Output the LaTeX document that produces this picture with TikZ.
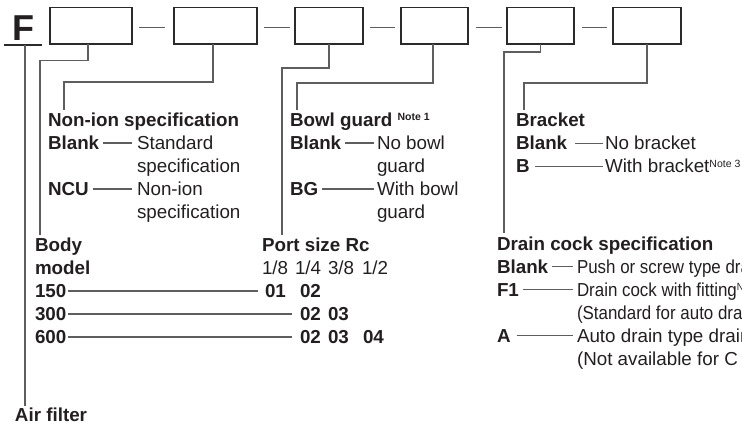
\documentclass[tikz,border=0pt]{standalone}
\usepackage{fontspec}
\setmainfont{Liberation Sans}
\newfontfamily\condfont[FakeStretch=0.9]{Liberation Sans}
\usetikzlibrary{calc}
\definecolor{ink}{HTML}{231F20}
\definecolor{wire}{HTML}{5E5E5E}
\definecolor{boxc}{HTML}{2A2A2A}
\newcommand\notemark[1]{\raisebox{5.5pt}{\fontsize{10.5}{10.5}\selectfont #1}}
\begin{document}
\fontsize{18.8}{22.6}\selectfont
\begin{tikzpicture}[x=1pt,y=-1pt,
  every node/.style={inner sep=0pt,outer sep=0pt,text=ink},
  box/.style={draw=boxc,line width=1.3pt,minimum height=36.5pt},
  conn/.style={draw=wire,line width=1.1pt},
  lbl/.style={anchor=base west,font=\bfseries},
  txt/.style={anchor=base west},
  ctxt/.style={anchor=base west,font=\condfont}]
\useasboundingbox (0,0) rectangle (742,425);
\clip (0,0) rectangle (742,425);

% header
\node[anchor=base west,font=\bfseries\fontsize{36}{36}\selectfont] (F) at (12.5,40.5) {F};
\coordinate (ul1) at (3.5,45);
\coordinate (ul2) at (42,45);
\coordinate (af) at (25,45);
\draw[draw=boxc,line width=1.3pt] (ul1) -- (ul2);

\node[box,minimum width=82pt] (b1) at (91,25.75) {};
\node[box,minimum width=83pt] (b2) at (215.5,25.75) {};
\node[box,minimum width=68pt] (b3) at (329,25.75) {};
\node[box,minimum width=67pt] (b4) at (434.5,25.75) {};
\node[box,minimum width=67pt] (b5) at (540.5,25.75) {};
\node[box,minimum width=68pt] (b6) at (647,25.75) {};

\draw[conn] ([shift={(7pt,-2pt)}]b1.east) -- ([shift={(-9pt,-2pt)}]b2.west);
\draw[conn] ([shift={(7pt,-2pt)}]b2.east) -- ([shift={(-5pt,-2pt)}]b3.west);
\draw[conn] ([shift={(7pt,-2pt)}]b3.east) -- ([shift={(-6pt,-2pt)}]b4.west);
\draw[conn] ([shift={(8pt,-2pt)}]b4.east) -- ([shift={(-5pt,-2pt)}]b5.west);
\draw[conn] ([shift={(8pt,-2pt)}]b5.east) -- ([shift={(-6pt,-2pt)}]b6.west);

% Air filter
\node[lbl] (air) at (15,421) {Air filter};
\draw[conn] (af) -- ([yshift=1pt]af |- air.north);

% Non-ion specification
\node[lbl] (nis) at (48,126.5) {Non-ion specification};
\node[lbl] (nb1) at (48,149.5) {Blank};
\node[txt] (nd1) at (137,149.5) {Standard};
\node[txt] (nd1b) at (137,172.5) {specification};
\node[lbl] (nb2) at (48,195.5) {NCU};
\node[txt] (nd2) at (137,195.5) {Non-ion};
\node[txt] (nd2b) at (137,218.5) {specification};
\draw[conn] ([xshift=-2.5pt]b2.south) -- ++(0,38) -| ([xshift=16pt,yshift=3pt]nis.north west);
\draw[conn] ([shift={(4pt,6.5pt)}]nb1.base east) -- ([shift={(-5pt,6.5pt)}]nd1.base west);
\draw[conn] ([shift={(4pt,6.5pt)}]nb2.base east) -- ([shift={(-5pt,6.5pt)}]nd2.base west);

% Bowl guard
\node[lbl] (bowl) at (290,126.5) {Bowl guard \notemark{Note 1}};
\node[lbl] (gb1) at (290,149.5) {Blank};
\node[txt] (gd1) at (377,149.5) {No bowl};
\node[txt] (gd1b) at (377,172.5) {guard};
\node[lbl] (gb2) at (290,195.5) {BG};
\node[txt] (gd2) at (377,195.5) {With bowl};
\node[txt] (gd2b) at (377,218.5) {guard};
\draw[conn] ([xshift=-1.5pt]b4.south) -- ++(0,39) -| ([xshift=7pt,yshift=3pt]bowl.north west);
\draw[conn] ([shift={(4pt,6.5pt)}]gb1.base east) -- ([shift={(-3pt,6.5pt)}]gd1.base west);
\draw[conn] ([shift={(4pt,6.5pt)}]gb2.base east) -- ([shift={(-3pt,6.5pt)}]gd2.base west);

% Bracket
\node[lbl] (brk) at (516,127) {Bracket};
\node[lbl] (kb1) at (516,150) {Blank};
\node[txt] (kd1) at (605,150) {No bracket};
\node[lbl] (kb2) at (516,173) {B};
\node[txt] (kd2) at (605,173) {With bracket\notemark{Note 3}};
\draw[conn] (b6.south) -- ++(0,39) -| ([xshift=8pt,yshift=3pt]brk.north west);
\draw[conn] ([shift={(8pt,6.5pt)}]kb1.base east) -- ([shift={(-2pt,6.5pt)}]kd1.base west);
\draw[conn] ([shift={(5.5pt,6.5pt)}]kb2.base east) -- ([shift={(-2pt,6.5pt)}]kd2.base west);

% Body model
\node[lbl] (body) at (35,251.5) {Body};
\node[lbl] (model) at (35,274.5) {model};
\node[lbl] (m150) at (35,297.5) {150};
\node[lbl] (m300) at (35,320.5) {300};
\node[lbl] (m600) at (35,343.5) {600};
\draw[conn] ([xshift=-3pt]b1.south) -- ++(0,16.5) -| ([xshift=5pt,yshift=3pt]body.north west);

% Port size
\node[lbl] (port) at (262,251.5) {Port size Rc};
\node[txt] (p1) at (262,274.5) {1/8};
\node[txt] (p2) at (295,274.5) {1/4};
\node[txt] (p3) at (328,274.5) {3/8};
\node[txt] (p4) at (362,274.5) {1/2};
\node[lbl] (c01) at (265,297.5) {01};
\node[lbl] (c02a) at (300,297.5) {02};
\node[lbl] (c02b) at (300,320.5) {02};
\node[lbl] (c03b) at (328,320.5) {03};
\node[lbl] (c02c) at (300,343.5) {02};
\node[lbl] (c03c) at (328,343.5) {03};
\node[lbl] (c04c) at (363,343.5) {04};
\draw[conn] (b3.south) -- ++(0,24) -| ([xshift=20pt,yshift=3pt]port.north west);
\draw[conn] ([shift={(2pt,6.5pt)}]m150.base east) -- ([shift={(-7pt,6.5pt)}]c01.base west);
\draw[conn] ([shift={(2pt,6.5pt)}]m300.base east) -- ([shift={(-8pt,6.5pt)}]c02b.base west);
\draw[conn] ([shift={(2pt,6.5pt)}]m600.base east) -- ([shift={(-8pt,6.5pt)}]c02c.base west);

% Drain cock specification
\node[lbl] (drain) at (497,250) {Drain cock specification};
\node[lbl] (db1) at (497,273) {Blank};
\node[ctxt] (dd1) at (577,273) {Push or screw type drain cock};
\node[lbl] (db2) at (497,296) {F1};
\node[ctxt] (dd2) at (577,296) {Drain cock with fitting\notemark{Note 2}};
\node[ctxt] (dd2b) at (577,319) {(Standard for auto drain)};
\node[lbl] (db3) at (497,342) {A};
\node[txt] (dd3) at (577,342) {Auto drain type drain cock};
\node[txt] (dd3b) at (577,365) {(Not available for C};
\draw[conn] (b5.south) -- ++(0,8) -| ([xshift=7pt,yshift=3pt]drain.north west);
\draw[conn] ([shift={(4pt,6.5pt)}]db1.base east) -- ([shift={(-4pt,6.5pt)}]dd1.base west);
\draw[conn] ([shift={(4pt,6.5pt)}]db2.base east) -- ([shift={(-4pt,6.5pt)}]dd2.base west);
\draw[conn] ([shift={(6pt,6.5pt)}]db3.base east) -- ([shift={(-4pt,6.5pt)}]dd3.base west);
\end{tikzpicture}
\end{document}
